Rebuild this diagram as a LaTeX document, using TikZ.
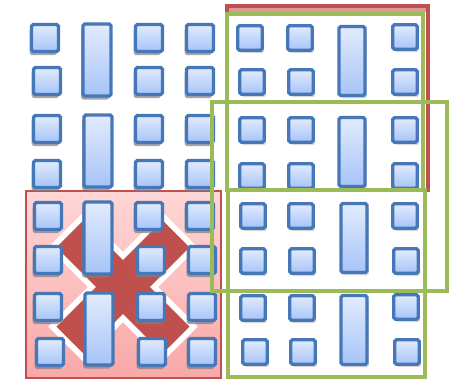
\documentclass[tikz,border=0pt]{standalone}
\usetikzlibrary{shadows}
\definecolor{blkline}{HTML}{4677B8}
\definecolor{blktop}{HTML}{E2EBFD}
\definecolor{blkbot}{HTML}{A6C4F8}
\definecolor{redline}{HTML}{C0504D}
\definecolor{pinktop}{HTML}{FFD6D6}
\definecolor{pinkbot}{HTML}{F9A8A8}
\definecolor{framegreen}{HTML}{9BBB59}

\begin{document}
\begin{tikzpicture}[x=0.02cm, y=-0.02cm,
  sq/.style={draw=blkline, line width=1.9pt, rounded corners=1pt,
             top color=blktop, bottom color=blkbot,
             minimum width=0.54cm, minimum height=0.54cm, inner sep=0pt},
  tallsq/.style={sq, minimum width=0.56cm, minimum height=1.44cm},
  rsq/.style={sq, minimum width=0.49cm, minimum height=0.49cm},
  rtall/.style={sq, minimum width=0.52cm, minimum height=1.38cm},
  lsh/.style={drop shadow={shadow xshift=-1pt, shadow yshift=-2pt, opacity=0.7}},
  rsh/.style={drop shadow={shadow xshift=1pt, shadow yshift=-1.6pt, opacity=0.3}},
  frame/.style={draw=framegreen, line width=2.8pt}
]
  \useasboundingbox (0,0) rectangle (454,380);

  % Back panels
  \draw[redline, line width=2pt, top color=redline!60, bottom color=white,
        middle color=white] (227,6) rectangle (428,190);
  \fill[white] (229,12) rectangle (426,189);
  \draw[redline, line width=1.6pt, top color=pinktop, bottom color=pinkbot]
    (26,191) rectangle (221,378);

  % Big cross behind the lower left blocks
  \begin{scope}[shift={(123,287)}, rotate=45]
    \draw[white, line width=3.2pt, fill=redline]
      (22,22) -- (78,22) -- (78,-22) -- (22,-22) -- (22,-78) -- (-22,-78)
      -- (-22,-22) -- (-78,-22) -- (-78,22) -- (-22,22) -- (-22,78) -- (22,78) -- cycle;
  \end{scope}

  % Left blocks
  \foreach \x/\y/\n in {45/38/a1, 149/38/a3, 200/38/a4,
                        47/81/b1, 149/81/b3, 200/81/b4,
                        47/129/c1, 149/129/c3, 200/129/c4,
                        47/174/d1, 149/174/d3, 200/174/d4,
                        48/216/e1, 149/216/e3, 200/216/e4,
                        48/260/f1, 151/260/f3, 202/260/f4,
                        48/307/g1, 151/307/g3, 202/307/g4,
                        50/352/h1, 152/352/h3, 202/352/h4}
    \node[sq, lsh] (L\n) at (\x,\y) {};
  \foreach \x/\y/\n in {97/60/1, 98/151/2, 98/238/3, 99/329/4}
    \node[tallsq, lsh] (LT\n) at (\x,\y) {};

  % Right blocks
  \foreach \x/\y/\n in {250/38/a1, 300/38/a2, 405/37/a4,
                        252/82/b1, 301/82/b2, 405/82/b4,
                        252/130/c1, 301/130/c2, 405/130/c4,
                        252/176/d1, 301/176/d2, 405/176/d4,
                        253/216/e1, 301/216/e2, 405/216/e4,
                        253/261/f1, 302/261/f2, 406/261/f4,
                        253/308/g1, 302/308/g2, 406/307/g4,
                        255/352/h1, 303/352/h2, 407/352/h4}
    \node[rsq, rsh] (R\n) at (\x,\y) {};
  \foreach \x/\y/\n in {352/61/1, 352/152/2, 354/238/3, 354/330/4}
    \node[rtall, rsh] (RT\n) at (\x,\y) {};

  % Green frames
  \draw[frame] (227,14) rectangle (423,190);
  \draw[frame] (212,102) rectangle (447,291);
  \draw[frame] (228,190) rectangle (425,377);
\end{tikzpicture}
\end{document}
